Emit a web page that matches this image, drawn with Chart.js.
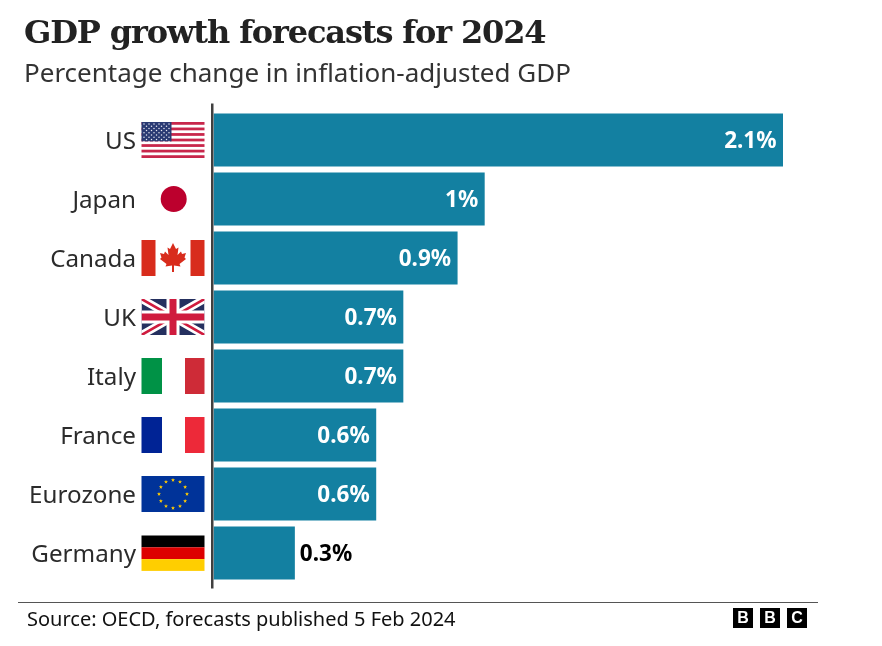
<!DOCTYPE html>
<html><head><meta charset="utf-8">
<script src="https://cdn.jsdelivr.net/npm/chart.js@4"></script>
<style>
html,body{margin:0;padding:0;background:#fff;width:882px;height:646px;overflow:hidden}
#wrap{position:relative;width:882px;height:646px}
canvas{position:absolute;left:0;top:0}
.t{position:absolute;white-space:nowrap;line-height:1}
#title{left:24px;top:13px;font:bold 32px "DejaVu Serif",serif;color:#222;letter-spacing:-1.13px}
#sub{left:24px;top:54px;font:26px "Noto Sans",sans-serif;color:#333}
#rule{position:absolute;left:18px;top:602px;width:800px;height:1px;background:#555}
#src{left:27px;top:605px;font:20px "Noto Sans",sans-serif;color:#111}
.b{position:absolute;top:608px;width:20px;height:20px;background:#000;color:#fff;font:bold 16px/20px "Liberation Sans",sans-serif;text-align:center}
</style></head><body>
<div id="wrap">
<canvas id="c" width="882" height="646"></canvas>
<div class="t" id="title">GDP growth forecasts for 2024</div>
<div class="t" id="sub">Percentage change in inflation-adjusted GDP</div>
<div id="rule"></div>
<div class="t" id="src">Source: OECD, forecasts published 5 Feb 2024</div>
<div class="b" style="left:733px">B</div><div class="b" style="left:760px">B</div><div class="b" style="left:787px">C</div>
</div>
<script>
const categories = ["US","Japan","Canada","UK","Italy","France","Eurozone","Germany"];
const growth = [2.1,1,0.9,0.7,0.7,0.6,0.6,0.3];
const valueLabels = ["2.1%","1%","0.9%","0.7%","0.7%","0.6%","0.6%","0.3%"];
const outsideLabels = ["Germany"];

const FX=141.5, FW=63, FH=36;
function star(c,x,y,r,col){c.fillStyle=col;c.beginPath();for(let i=0;i<10;i++){const a=-Math.PI/2+i*Math.PI/5,q=i%2?r*0.42:r;c.lineTo(x+q*Math.cos(a),y+q*Math.sin(a));}c.closePath();c.fill();}
const flags={
 US(c,y){const t=y-FH/2,sh=FH/13;
  c.fillStyle='#fff';c.fillRect(FX,t,FW,FH);
  c.fillStyle='#c8264b';for(let i=0;i<13;i+=2)c.fillRect(FX,t+i*sh,FW,sh);
  c.fillStyle='#2a3a73';c.fillRect(FX,t,30,sh*7);
  for(let r=0;r<9;r++){const n=r%2?5:6;for(let i=0;i<n;i++){c.fillStyle='#e8e8f2';c.beginPath();c.arc(FX+(r%2?5:2.5)+i*5,t+2+r*2.2,0.75,0,7);c.fill();}}
 },
 Japan(c,y){c.fillStyle='#bc002d';c.beginPath();c.arc(FX+32.2,y,13,0,7);c.fill();},
 Canada(c,y){const t=y-FH/2;c.fillStyle='#d82c1c';c.fillRect(FX,t,14,FH);c.fillRect(FX+49,t,14,FH);
  const x=FX+31.5,s=FH/36;
  const p=[[0,-15],[3,-9],[5.5,-10.5],[4.5,-3],[8,-6.5],[9,-4],[13,-5],[11.5,-0.5],[13,1],[6.5,6],[7.5,8.5],[1,7.5],[1,14],[-1,14],[-1,7.5],[-7.5,8.5],[-6.5,6],[-13,1],[-11.5,-0.5],[-13,-5],[-9,-4],[-8,-6.5],[-4.5,-3],[-5.5,-10.5],[-3,-9]];
  c.beginPath();p.forEach(q=>c.lineTo(x+q[0]*s,y+q[1]*s));c.closePath();c.fill();
 },
 UK(c,y){const t=y-FH/2,x1=FX+FW,y1=t+FH;
  c.save();c.beginPath();c.rect(FX,t,FW,FH);c.clip();
  c.fillStyle='#25305f';c.fillRect(FX,t,FW,FH);
  c.strokeStyle='#fff';c.lineWidth=8;c.beginPath();c.moveTo(FX,t);c.lineTo(x1,y1);c.moveTo(x1,t);c.lineTo(FX,y1);c.stroke();
  c.strokeStyle='#cf1b3e';c.lineWidth=2.6;c.beginPath();c.moveTo(FX,t);c.lineTo(x1,y1);c.moveTo(x1,t);c.lineTo(FX,y1);c.stroke();
  c.fillStyle='#fff';c.fillRect(FX+25,t,13,FH);c.fillRect(FX,y-6.5,FW,13);
  c.fillStyle='#cf1b3e';c.fillRect(FX+28,t,7,FH);c.fillRect(FX,y-3.5,FW,7);
  c.restore();
 },
 Italy(c,y){const t=y-FH/2;c.fillStyle='#009246';c.fillRect(FX,t,20.5,FH);c.fillStyle='#ce2b37';c.fillRect(FX+43.5,t,19.5,FH);},
 France(c,y){const t=y-FH/2;c.fillStyle='#002395';c.fillRect(FX,t,20.5,FH);c.fillStyle='#ed2939';c.fillRect(FX+43.5,t,19.5,FH);},
 Eurozone(c,y){const t=y-FH/2;c.fillStyle='#003399';c.fillRect(FX,t,FW,FH);
  for(let i=0;i<12;i++){const a=i*Math.PI/6;star(c,FX+31.5+14*Math.sin(a),y+14*Math.cos(a),2.1,'#ffcc00');}
 },
 Germany(c,y){const t=y-FH/2+0.5,h=FH/3-0.2;c.fillStyle='#000';c.fillRect(FX,t,FW,h);c.fillStyle='#dd0000';c.fillRect(FX,t+h,FW,h);c.fillStyle='#ffce00';c.fillRect(FX,t+2*h,FW,h);}
};

const furniture={id:'furniture',afterDatasetsDraw(ch){
 const c=ch.ctx,ys=ch.scales.y,m=ch.getDatasetMeta(0);
 c.save();
 c.fillStyle='#404040';c.fillRect(ch.chartArea.left-2.5,ch.chartArea.top-7,2.5,ch.chartArea.height+13);
 categories.forEach((n,i)=>flags[n](c,ys.getPixelForValue(i)));
 c.font='bold 22.5px "Noto Sans",sans-serif';c.textBaseline='middle';
 m.data.forEach((bar,i)=>{
  const out=outsideLabels.includes(categories[i]);
  c.fillStyle=out?'#000':'#fff';c.textAlign=out?'left':'right';
  c.fillText(valueLabels[i],bar.x+(out?5:-6.5),bar.y+2);
 });
 c.restore();
}};

new Chart(document.getElementById('c'),{
 type:'bar',
 data:{labels:categories,datasets:[{data:growth,backgroundColor:'#1380a1',borderWidth:0,barPercentage:53/59,categoryPercentage:1}]},
 options:{indexAxis:'y',responsive:false,animation:false,devicePixelRatio:1,
  layout:{padding:{left:0,right:99,top:110.5,bottom:63.5}},
  plugins:{legend:{display:false},tooltip:{enabled:false},title:{display:false}},
  scales:{
   x:{min:0,max:2.1,display:false,grid:{display:false}},
   y:{afterFit(s){s.width=213.5;s.paddingTop=0;s.paddingBottom=0;},grid:{display:false,drawTicks:false},border:{display:false},
      ticks:{padding:77.5,labelOffset:2,color:'#2b2b2b',font:{size:24.2,family:'"Noto Sans",sans-serif'}}}
  }},
 plugins:[furniture]
});
</script>
</body></html>
